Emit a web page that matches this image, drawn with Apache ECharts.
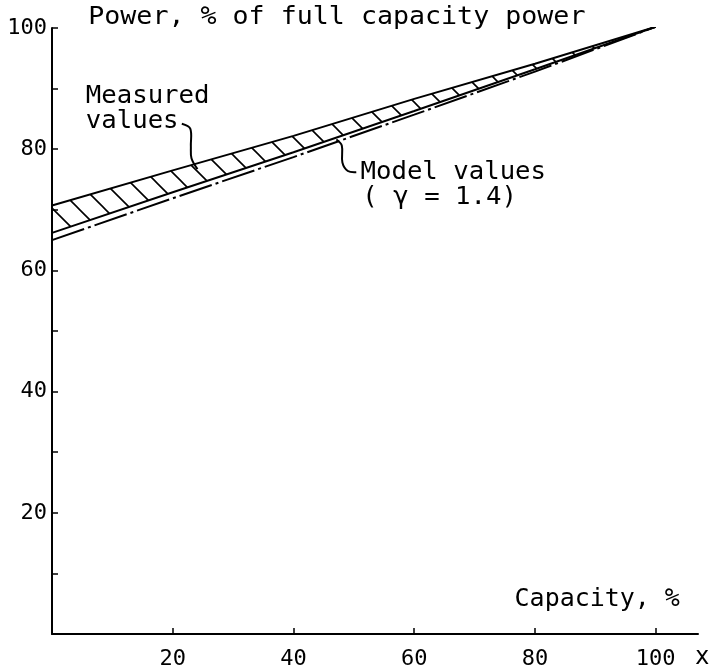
<!DOCTYPE html>
<html>
<head>
<meta charset="utf-8">
<script src="https://cdn.jsdelivr.net/npm/echarts@6/dist/echarts.min.js"></script>
<style>
html, body { margin: 0; background: #fff; }
#main { width: 713px; height: 672px; }
</style>
</head>
<body>
<div id="main"></div>
<script>
// values
var capacity = [0, 20, 40, 60, 80, 100];
var measuredUpper = [70.7, 76.5, 82.2, 88.3, 94.1, 100.2];
var measuredLower = [66.2, 72.9, 79.5, 86.3, 93.2, 100.2];
var modelValues = [65.0, 71.9, 78.7, 85.7, 92.8, 100.2];
var xTickValues = [20, 40, 60, 80, 100];
var yLabelValues = [20, 40, 60, 80, 100];

var FONT = "'DejaVu Sans Mono', 'Liberation Mono', monospace";

function pairs(ys) {
    return capacity.map(function (x, i) { return [x, ys[i]]; });
}

// hatching used inside the measured band
function makeHatch() {
    var c = document.createElement('canvas');
    c.width = 26; c.height = 26;
    var g = c.getContext('2d');
    g.strokeStyle = '#000';
    g.lineWidth = 1.6;
    g.beginPath();
    g.moveTo(-3, -3); g.lineTo(29, 29);
    g.moveTo(-3, 23); g.lineTo(3, 29);
    g.moveTo(23, -3); g.lineTo(29, 3);
    g.stroke();
    return c;
}
var hatchCanvas = makeHatch();

var chart = echarts.init(document.getElementById('main'));

var option = {
    animation: false,
    backgroundColor: '#fff',
    grid: { left: 52, right: 15, top: 28, bottom: 38, containLabel: false, outerBoundsMode: 'none' },
    xAxis: {
        type: 'value',
        min: 0,
        max: 107,
        splitLine: { show: false },
        axisLine: { lineStyle: { color: '#000', width: 2 } },
        axisTick: { inside: true, length: 6, customValues: xTickValues, lineStyle: { color: '#000', width: 1.5 } },
        axisLabel: { customValues: xTickValues, color: '#000', fontFamily: FONT, fontSize: 22, margin: 14 }
    },
    yAxis: {
        type: 'value',
        min: 0,
        max: 100,
        interval: 10,
        splitLine: { show: false },
        axisLine: { lineStyle: { color: '#000', width: 2 } },
        axisTick: { inside: true, length: 6, lineStyle: { color: '#000', width: 1.5 } },
        axisLabel: {
            color: '#000', fontFamily: FONT, fontSize: 22, margin: 5,
            formatter: function (v) { return yLabelValues.indexOf(v) >= 0 ? String(v) : ''; }
        }
    },
    series: [
        {
            type: 'custom',
            name: 'band',
            silent: true,
            z: 1,
            data: [[0, 0]],
            renderItem: function (params, api) {
                var pts = [];
                for (var i = 0; i < capacity.length; i++) {
                    pts.push(api.coord([capacity[i], measuredUpper[i]]));
                }
                for (var j = capacity.length - 1; j >= 0; j--) {
                    pts.push(api.coord([capacity[j], measuredLower[j]]));
                }
                return {
                    type: 'polygon',
                    shape: { points: pts },
                    style: { fill: { image: hatchCanvas, repeat: 'repeat' }, stroke: null }
                };
            }
        },
        {
            type: 'line', name: 'Measured upper', data: pairs(measuredUpper),
            symbol: 'none', z: 3, lineStyle: { color: '#000', width: 2 }
        },
        {
            type: 'line', name: 'Measured lower', data: pairs(measuredLower),
            symbol: 'none', z: 3, lineStyle: { color: '#000', width: 2 }
        },
        {
            type: 'line', name: 'Model values', data: pairs(modelValues),
            symbol: 'none', z: 3, lineStyle: { color: '#000', width: 2, type: [34, 4, 3, 4] }
        }
    ]
};
chart.setOption(option);

// annotations, placed in data coordinates
function px(x, y) { return chart.convertToPixel({ gridIndex: 0 }, [x, y]); }
function label(text, at, align, dy, sx) {
    return {
        type: 'text', x: at[0], y: at[1] + (dy || 0), z: 10, scaleX: sx || 1.07,
        style: { text: text, fill: '#000', font: '24px ' + FONT, textAlign: align || 'left', textVerticalAlign: 'middle' }
    };
}
function leader(points) {
    return {
        type: 'polyline', z: 10,
        shape: { points: points.map(function (p) { return px(p[0], p[1]); }), smooth: 0.35 },
        style: { stroke: '#000', lineWidth: 2, fill: null }
    };
}

chart.setOption({
    graphic: [
        label('Power, % of full capacity power', px(6, 100), 'left', -10, 1.11),
        label('Measured', px(5.6, 88.6)),
        label('values', px(5.6, 84.5)),
        label('Model values', px(51.1, 76.1)),
        label('( \u03b3 = 1.4)', px(51.4, 72.0)),
        label('Capacity, %', px(104, 5.6), 'right', 0, 1.04),
        label('x', px(107.7, 0), 'center', 24, 1),
        leader([[21.5, 84.2], [22.9, 83.4], [23.0, 80.5], [23.1, 78.5], [24.1, 76.7]]),
        leader([[47.1, 81.6], [48.0, 80.6], [48.1, 77.8], [49.0, 76.4], [50.4, 76.2]])
    ]
});
</script>
</body>
</html>
